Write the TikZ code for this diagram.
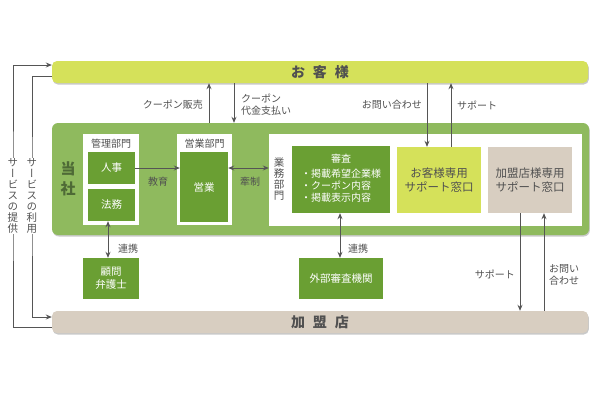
\documentclass[tikz,border=0pt]{standalone}
\usepackage{fontspec}
\setmainfont{Noto Sans CJK JP}
\newfontfamily\vfont[RawFeature=+vert]{Noto Sans CJK JP}
\usetikzlibrary{arrows.meta,shadows}
\definecolor{limec}{HTML}{D5E15A}
\definecolor{outerg}{HTML}{8FBA5E}
\definecolor{darkg}{HTML}{6A9F33}
\definecolor{beigec}{HTML}{D8CEC1}
\definecolor{txt}{HTML}{505050}
\definecolor{arrc}{HTML}{555555}
\definecolor{ttl}{HTML}{4E6A36}
\begin{document}
\begin{tikzpicture}[x=1pt,y=-1pt,
  shad/.style={drop shadow={shadow xshift=0.8pt,shadow yshift=-1.5pt,opacity=0.35,fill=black!60}},
  bar/.style={rounded corners=5pt,minimum width=536pt,minimum height=22pt,inner sep=0pt,
    font=\fontsize{14}{16}\selectfont\bfseries,text=txt,shad},
  whitebox/.style={fill=white,inner sep=0pt},
  darkbox/.style={fill=darkg,inner sep=0pt,text=white,align=center,font=\fontsize{10.5}{13}\selectfont},
  supbox/.style={inner sep=0pt,minimum width=84pt,minimum height=66pt,text=txt,align=center,font=\fontsize{11.5}{14}\selectfont},
  lbl/.style={font=\fontsize{10}{12}\selectfont,text=txt,inner sep=0pt,align=left},
  vlbl/.style={font=\vfont\fontsize{10.5}{11}\selectfont,text=txt,inner sep=1pt,align=center},
  arrline/.style={draw=arrc,line width=0.9pt,-{Stealth[length=6pt,width=5pt]}},
  biline/.style={draw=arrc,line width=0.9pt,{Stealth[length=6pt,width=5pt]}-{Stealth[length=6pt,width=5pt]}},
  plainline/.style={draw=arrc,line width=0.9pt}
]
\useasboundingbox[fill=white] (0,0) rectangle (610,400);

% bars
\node[bar,fill=limec] (top) at (320,72) {お\hspace{8pt}客\hspace{8pt}様};
\node[bar,fill=beigec] (bottom) at (320,322) {加\hspace{8pt}盟\hspace{8pt}店};

% outer company box
\node[fill=outerg,rounded corners=6pt,minimum width=537pt,minimum height=112pt,inner sep=0pt,shad] (outer) at (320.5,179) {};
\node[font=\fontsize{15}{20}\selectfont\bfseries,text=ttl,align=center,inner sep=0pt] (tosha) at (68,179) {当\\社};

% management
\node[whitebox,minimum width=56pt,minimum height=91pt] (kanri) at (111,179.5) {};
\node[lbl] (kanrilbl) at (111,143.5) {管理部門};
\node[darkbox,minimum width=47pt,minimum height=32pt] (jinji) at (111.5,168) {人事};
\node[darkbox,minimum width=47pt,minimum height=32pt] (houmu) at (111.5,205) {法務};

% sales
\node[whitebox,minimum width=55pt,minimum height=91pt] (eigyobu) at (204.5,179.5) {};
\node[lbl] (eigyolbl) at (204.5,143.5) {営業部門};
\node[darkbox,minimum width=48pt,minimum height=70pt] (eigyo) at (204,187) {営業};

% operations
\node[whitebox,minimum width=313pt,minimum height=92pt] (gyomu) at (425.5,180) {};
\node[vlbl] (gyomulbl) at (279,179) {業\\務\\部\\門};
\node[darkbox,minimum width=98pt,minimum height=67pt,font=\fontsize{10}{12}\selectfont] (shinsa) at (341,179.5)
  {審査\\[5pt]\begin{tabular}{@{}l@{}}・掲載希望企業様\\・クーポン内容\\・掲載表示内容\end{tabular}};
\node[supbox,fill=limec] (osup) at (439,180) {お客様専用\\サポート窓口};
\node[supbox,fill=beigec] (ksup) at (530,180) {加盟店様専用\\サポート窓口};

% external
\node[darkbox,minimum width=56pt,minimum height=41pt] (komon) at (111,278.5) {顧問\\弁護士};
\node[darkbox,minimum width=84pt,minimum height=41pt] (gaibu) at (341,278.5) {外部審査機関};

% internal arrows
\draw[arrline] (jinji.east) -- (jinji.east -| eigyo.west);
\node[lbl] (kyoiku) at (158,182) {教育};
\draw[biline] (eigyo.east |- jinji.east) -- (gyomu.west |- jinji.east);
\node[lbl] (kensei) at (250,182) {牽制};

% top arrows
\draw[arrline] (outer.north -| 209,0) -- (top.south -| 209,0);
\node[lbl,anchor=east] (hanbai) at (203,105) {クーポン販売};
\draw[arrline] (top.south -| 234,0) -- (outer.north -| 234,0);
\node[lbl,anchor=west] (shiharai) at (241,105) {クーポン\\代金支払い};
\draw[arrline] (top.south -| 427,0) -- (osup.north -| 427,0);
\node[lbl,anchor=east] (toi1) at (422,105) {お問い合わせ};
\draw[arrline] (osup.north -| 451,0) -- (top.south -| 451,0);
\node[lbl,anchor=west] (sup1) at (457,105) {サポート};

% lower arrows
\draw[biline] (houmu.south -| 108,0) -- (komon.north -| 108,0);
\node[lbl,anchor=west] (renkei1) at (118,249) {連携};
\draw[biline] (shinsa.south -| 340,0) -- (gaibu.north -| 340,0);
\node[lbl,anchor=west] (renkei2) at (348,249) {連携};
\draw[arrline] (ksup.south -| 520,0) -- (bottom.north -| 520,0);
\node[lbl,anchor=east] (sup2) at (515,274) {サポート};
\draw[arrline] (bottom.north -| 544,0) -- (ksup.south -| 544,0);
\node[lbl,anchor=west] (toi2) at (549,275) {お問い\\合わせ};

% service lines on the left
\draw[arrline] (bottom.west |- 0,327) -| (13,196) |- (top.west |- 0,65);
\draw[arrline] (top.west |- 0,76) -| (32,196) |- (bottom.west |- 0,317);
\node[vlbl,fill=white] (teikyo) at (13,196) {サ\\ー\\ビ\\ス\\の\\提\\供};
\node[vlbl,fill=white] (riyo) at (32,196) {サ\\ー\\ビ\\ス\\の\\利\\用};
\end{tikzpicture}
\end{document}
